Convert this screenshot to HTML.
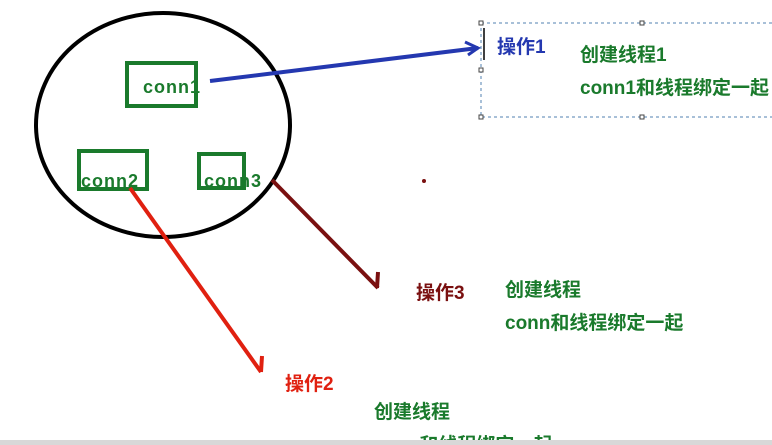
<!DOCTYPE html>
<html><head><meta charset="utf-8"><style>
html,body{margin:0;padding:0;background:#fff;width:772px;height:445px;overflow:hidden}
svg text{font-family:"Liberation Sans","Noto Sans CJK SC",sans-serif;font-weight:bold}
</style></head><body>
<svg width="772" height="445" viewBox="0 0 772 445" xmlns="http://www.w3.org/2000/svg">
<ellipse cx="163" cy="125" rx="127" ry="112" fill="none" stroke="#000" stroke-width="4"/>
<g fill="none" stroke="#1a7a2c" stroke-width="4">
<rect x="127" y="63" width="69" height="43"/>
<rect x="79" y="151" width="68" height="38"/>
<rect x="199" y="154" width="45" height="34"/>
</g>
<g fill="#1a7a2c" font-size="18" letter-spacing="1">
<text x="143" y="93">conn1</text>
<text x="81" y="187">conn2</text>
<text x="204" y="187">conn3</text>
</g>
<polyline points="210,81 478,48" stroke="#2438b0" stroke-width="4" fill="none"/>
<polyline points="465,42 478,48 468,55" stroke="#2438b0" stroke-width="3" fill="none"/>
<polyline points="272,180 378,288" stroke="#7a1010" stroke-width="4" fill="none"/>
<line x1="378" y1="272" x2="377" y2="288" stroke="#7a1010" stroke-width="4"/>
<circle cx="424" cy="181" r="2" fill="#7a1010"/>
<polyline points="130,188 261,372" stroke="#e02010" stroke-width="4" fill="none"/>
<line x1="262" y1="356" x2="261" y2="372" stroke="#e02010" stroke-width="4"/>
<rect x="481" y="23" width="300" height="94" fill="none" stroke="#5080b0" stroke-width="1" stroke-dasharray="3,3"/>
<g fill="#fff" stroke="#444" stroke-width="1">
<rect x="479" y="21" width="4" height="4"/><rect x="640" y="21" width="4" height="4"/>
<rect x="479" y="68" width="4" height="4"/><rect x="479" y="115" width="4" height="4"/>
<rect x="640" y="115" width="4" height="4"/>
</g>
<line x1="484" y1="28" x2="484" y2="60" stroke="#000" stroke-width="1.5"/>
<text x="497" y="53" font-size="19" fill="#2438b0">操作1</text>
<g fill="#1a7a2c" font-size="19">
<text x="580" y="61">创建线程1</text>
<text x="580" y="94">conn1和线程绑定一起</text>
<text x="505" y="296">创建线程</text>
<text x="505" y="329">conn和线程绑定一起</text>
<text x="374" y="418">创建线程</text>
<text x="374" y="451">conn和线程绑定一起</text>
</g>
<text x="416" y="299" font-size="19" fill="#7a1010">操作3</text>
<text x="285" y="390" font-size="19" fill="#e02010">操作2</text>
<rect x="0" y="440" width="772" height="5" fill="#d8d8d8"/>
</svg>
</body></html>
